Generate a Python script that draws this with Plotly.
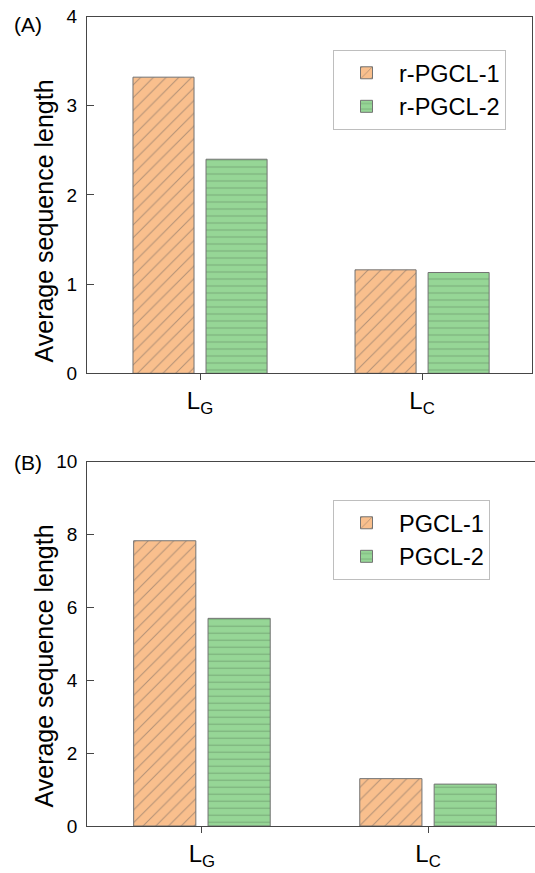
import plotly.graph_objects as go

categories = ["L<sub>G</sub>", "L<sub>C</sub>"]
series_a_names = ["r-PGCL-1", "r-PGCL-2"]
series_a_1 = [3.32, 1.16]
series_a_2 = [2.40, 1.13]
series_b_names = ["PGCL-1", "PGCL-2"]
series_b_1 = [7.83, 1.30]
series_b_2 = [5.70, 1.15]
yticks_a = [0, 1, 2, 3, 4]
yticks_b = [0, 2, 4, 6, 8, 10]
y_title = "Average sequence length"

W, H = 535, 873
FONT = "Arial, Liberation Sans, sans-serif"
ORANGE = "rgb(249,191,141)"
GREEN = "rgb(150,214,150)"
EDGE = "rgb(115,115,115)"
AX = "rgb(70,70,70)"

def px_x(v):
    return v / W

def px_y(v):
    return 1 - v / H

fig = go.Figure()

def add_bars(names, v1, v2, xa, ya, leg):
    fig.add_trace(go.Bar(
        x=categories, y=v1, name=names[0], xaxis=xa, yaxis=ya, legend=leg,
        width=0.275, offset=-0.302,
        marker=dict(color=ORANGE, line=dict(color=EDGE, width=1),
                    pattern=dict(shape="/", fgcolor="rgb(110,100,95)", size=9,
                                 solidity=0.12, fillmode="overlay")),
    ))
    fig.add_trace(go.Bar(
        x=categories, y=v2, name=names[1], xaxis=xa, yaxis=ya, legend=leg,
        width=0.275, offset=0.027,
        marker=dict(color=GREEN, line=dict(color=EDGE, width=1),
                    pattern=dict(shape="-", fgcolor="rgb(95,135,95)", size=7,
                                 solidity=0.16, fillmode="overlay")),
    ))

add_bars(series_a_names, series_a_1, series_a_2, "x", "y", "legend")
add_bars(series_b_names, series_b_1, series_b_2, "x2", "y2", "legend2")

xcommon = dict(showline=True, linecolor=AX, linewidth=1.3, mirror=True,
               ticks="outside", ticklen=6, tickcolor=AX, tickwidth=1.3,
               showgrid=False, zeroline=False, fixedrange=True, automargin=False,
               tickfont=dict(family=FONT, size=24, color="black"))
ycommon = dict(showline=True, linecolor=AX, linewidth=1.3, mirror=True,
               ticks="inside", ticklen=7, tickcolor=AX, tickwidth=1.3,
               showgrid=False, zeroline=False, ticklabelstandoff=5, automargin=False,
               tickfont=dict(family=FONT, size=19, color="black"))

legcommon = dict(xanchor="left", yanchor="top", itemwidth=55,
                 bordercolor="rgb(190,190,190)", borderwidth=1, bgcolor="white",
                 font=dict(family=FONT, size=23.5, color="black"), tracegroupgap=0)

def label(text, x, y, size, angle=0):
    return dict(text=text, x=px_x(x), y=px_y(y), xref="paper", yref="paper",
                xanchor="center", yanchor="middle", textangle=angle,
                showarrow=False, font=dict(family=FONT, size=size, color="black"))

fig.update_layout(
    width=W, height=H,
    margin=dict(l=0, r=0, t=0, b=0),
    paper_bgcolor="white", plot_bgcolor="white",
    barmode="overlay",
    font=dict(family=FONT, color="black"),
    xaxis=dict(domain=[px_x(87), px_x(532)], range=[-0.509, 1.495], anchor="y",
               tickvals=[0, 1], ticktext=categories, type="category", **xcommon),
    yaxis=dict(domain=[px_y(373.3), px_y(16.5)], range=[0, 4], anchor="x",
               tickvals=yticks_a, **ycommon),
    xaxis2=dict(domain=[px_x(87.3), 1.0], range=[-0.507, 1.473], anchor="y2",
                tickvals=[0, 1], ticktext=categories, type="category", **xcommon),
    yaxis2=dict(domain=[px_y(826), px_y(461.7)], range=[0, 10], anchor="x2",
                tickvals=yticks_b, **ycommon),
    legend=dict(x=px_x(333), y=px_y(50), **legcommon),
    legend2=dict(x=px_x(333), y=px_y(500), **legcommon),
    annotations=[
        label("(A)", 28, 24, 21),
        label("(B)", 28, 462, 21),
        label(y_title, 43.5, 221, 25, -90),
        label(y_title, 43.5, 666, 25, -90),
    ],
)

fig.write_html("out.html")
